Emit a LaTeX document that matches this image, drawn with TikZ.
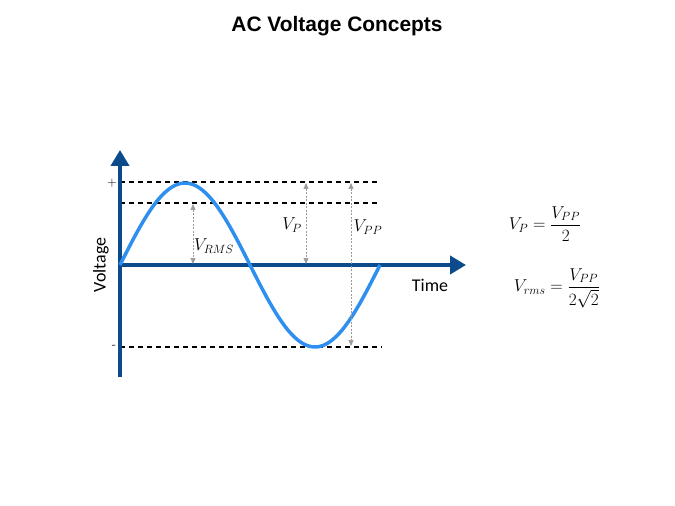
\documentclass[tikz,border=0pt]{standalone}
\usepackage{fontspec}
\usepackage{amsmath}
\setsansfont{Carlito}
\newfontfamily\titlefont{Liberation Sans}
\usetikzlibrary{arrows.meta}
\definecolor{axisblue}{HTML}{0B4A8B}
\definecolor{waveblue}{HTML}{2E8FEF}
\definecolor{dimgray}{HTML}{9A9A9A}
\begin{document}
\begin{tikzpicture}[x=1bp,y=-1bp,
  axis/.style={axisblue,line width=4.5bp,-{Triangle[length=16bp,width=18bp]}},
  wave/.style={waveblue,line width=3.5bp},
  level/.style={black,line width=1.2bp,dash pattern=on 5bp off 4bp},
  dim/.style={dimgray,line width=0.6bp,dash pattern=on 2bp off 1.5bp,{Triangle[length=6bp,width=5bp]}-{Triangle[length=6bp,width=5bp]}},
  lbl/.style={font=\fontsize{18}{20}\selectfont\sffamily},
  eq/.style={font=\fontsize{17}{19}\selectfont}]
\useasboundingbox (0,0) rectangle (675,506);
\node[font=\titlefont\bfseries\fontsize{21}{24}\selectfont] (title) at (337,26) {AC Voltage Concepts};
% levels
\coordinate (p1) at (120,182); \coordinate (p2) at (380,182);
\coordinate (r1) at (120,203); \coordinate (r2) at (380,203);
\coordinate (n1) at (120,347); \coordinate (n2) at (382,347);
\draw[level] (p1) -- (p2);
\draw[level] (r1) -- (r2);
\draw[level] (n1) -- (n2);
% axes
\coordinate (o) at (120,265);
\coordinate (yb) at (120,377); \coordinate (yt) at (120,150);
\coordinate (xt) at (466,265);
\draw[axis] (yb) -- (yt);
\draw[axis] (o) -- (xt);
% wave
\draw[wave,domain=0:360,samples=90,smooth] plot ({120+\x/360*260},{265-82*sin(\x)});
% dims
\coordinate (a1) at (193,204); \coordinate (a2) at (193,264);
\coordinate (b1) at (306,183); \coordinate (b2) at (306,264);
\coordinate (c1) at (351,183); \coordinate (c2) at (351,346);
\draw[dim] (a1) -- (a2);
\draw[dim] (b1) -- (b2);
\draw[dim] (c1) -- (c2);
\node[eq] (lrms) at (214,246) {$V_{RMS}$};
\node[eq] (lp) at (292,225) {$V_P$};
\node[eq] (lpp) at (368,227) {$V_{PP}$};
\node[font=\fontsize{13}{14}\selectfont] (plus) at (112,183) {+};
\node[font=\fontsize{13}{14}\selectfont] (minus) at (114,347) {-};
\node[lbl,rotate=90] (volt) at (101,265) {Voltage};
\node[lbl] (time) at (430,285) {Time};
\node[eq] (f1) at (545,224) {$V_P=\dfrac{V_{PP}}{2}$};
\node[eq] (f2) at (557,288) {$V_{rms}=\dfrac{V_{PP}}{2\sqrt{2}}$};
\end{tikzpicture}
\end{document}
